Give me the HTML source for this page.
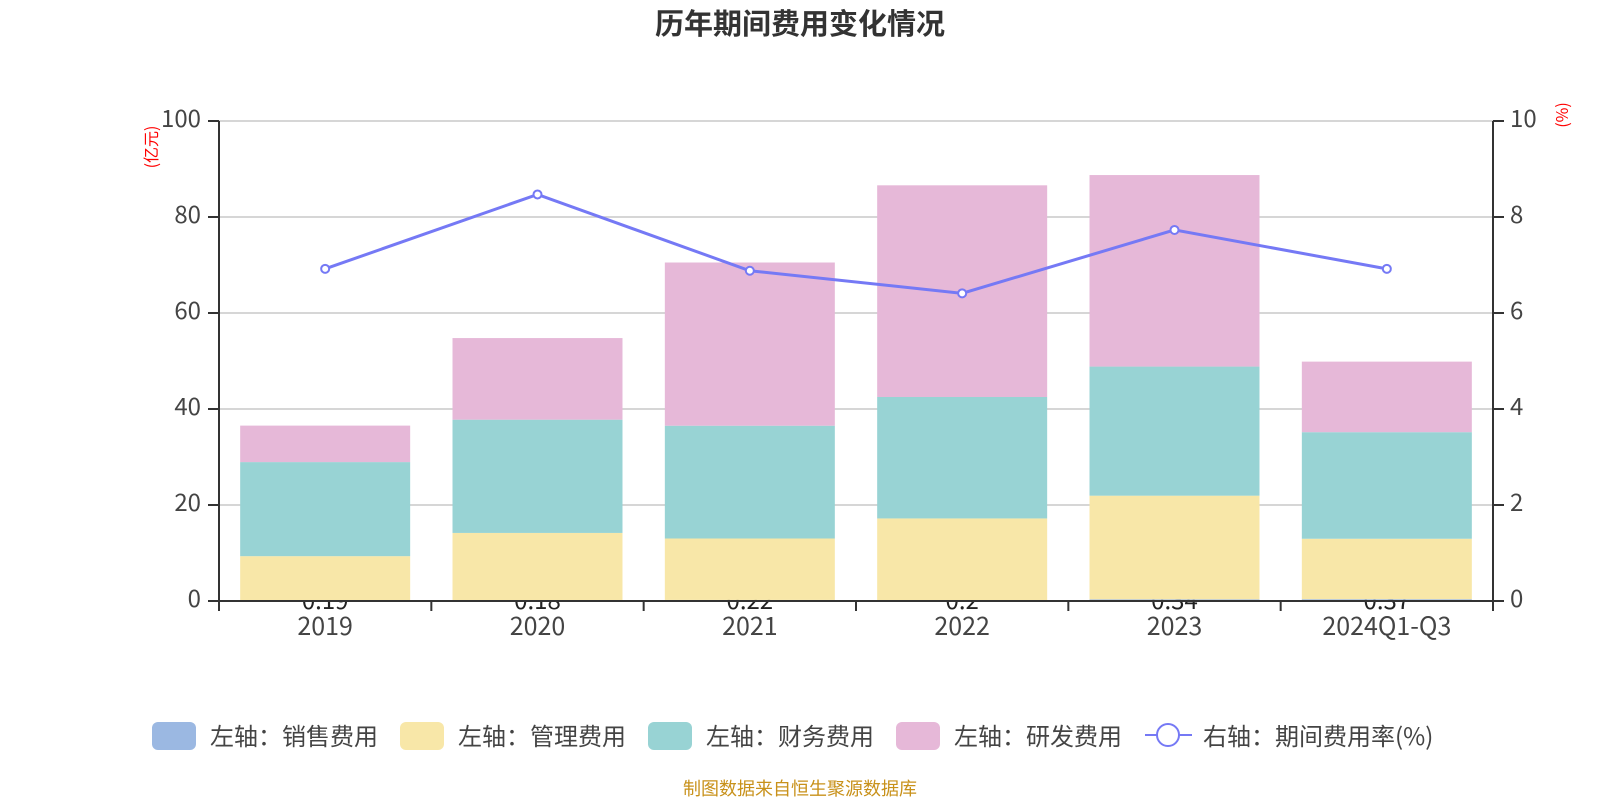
<!DOCTYPE html>
<html><head><meta charset="utf-8"><style>
body{margin:0;background:#fff;}
svg{display:block;font-family:"Liberation Sans","Noto Sans CJK SC",sans-serif;}
.n{font-family:"Noto Sans CJK SC","Liberation Sans",sans-serif;}
</style></head><body>
<svg id="c" width="1600" height="800" viewBox="0 0 1600 800">
<text class="n" x="800" y="34" text-anchor="middle" font-size="29" font-weight="bold" fill="#333">历年期间费用变化情况</text>
<text class="n" transform="translate(157,147) rotate(-90)" text-anchor="middle" font-size="16" fill="#f00">(亿元)</text>
<text class="n" transform="translate(1568,115) rotate(-90)" text-anchor="middle" font-size="16" fill="#f00">(%)</text>
<g id="grid"></g><g id="labels"></g><g id="bars"></g><g id="axes"></g><g id="line"></g>
<g class="n">
<rect x="152" y="722" width="44" height="28" rx="6" fill="#9bb8e2"/>
<text x="210" y="745" font-size="24" fill="#444">左轴：销售费用</text>
<rect x="400" y="722" width="44" height="28" rx="6" fill="#f8e7a8"/>
<text x="458" y="745" font-size="24" fill="#444">左轴：管理费用</text>
<rect x="648" y="722" width="44" height="28" rx="6" fill="#98d3d4"/>
<text x="706" y="745" font-size="24" fill="#444">左轴：财务费用</text>
<rect x="896" y="722" width="44" height="28" rx="6" fill="#e6b8d8"/>
<text x="954" y="745" font-size="24" fill="#444">左轴：研发费用</text>
<line x1="1145" y1="735" x2="1192" y2="735" stroke="#7579f5" stroke-width="2"/>
<circle cx="1168" cy="735" r="11" fill="#fff" stroke="#7579f5" stroke-width="2"/>
<text x="1203" y="745" font-size="24" fill="#444">右轴：期间费用率(%)</text>
</g>
<text class="n" x="800" y="795" text-anchor="middle" font-size="18" fill="#c8911a">制图数据来自恒生聚源数据库</text>
</svg>
<script>
const categories=["2019","2020","2021","2022","2023","2024Q1-Q3"];
const sales=[0.19,0.18,0.22,0.2,0.34,0.37];
const admin=[9.15,14.0,12.8,17.0,21.6,12.6];
const finance=[19.6,23.6,23.5,25.3,26.9,22.2];
const rnd=[7.6,17.0,34.0,44.1,39.9,14.7];
const rate=[6.92,8.47,6.88,6.41,7.73,6.92];
const leftTicks=[0,20,40,60,80,100];
const rightTicks=[0,2,4,6,8,10];

const NS="http://www.w3.org/2000/svg";
const X0=219,X1=1493,Y0=601,Y1=121;
const band=(X1-X0)/categories.length, bw=170;
const yL=v=>Y0-(v/100)*(Y0-Y1);
const yR=v=>Y0-(v/10)*(Y0-Y1);
const xC=i=>X0+band*(i+0.5);
function mk(tag,attrs,parent){const e=document.createElementNS(NS,tag);for(const k in attrs)e.setAttribute(k,attrs[k]);document.getElementById(parent).appendChild(e);return e;}

leftTicks.forEach((t,i)=>{
  if(t>0){const g=mk('line',{x1:X0,x2:X1,y1:yL(t),y2:yL(t),stroke:'#c8c8c8','stroke-width':1.5},'grid');
  
  }
  const tk=mk('line',{x1:X0-11,x2:X0,y1:yL(t),y2:yL(t),stroke:'#333','stroke-width':2},'axes');
  
  
  const tx=mk('text',{x:X0-18,y:yL(t)+6,'text-anchor':'end','font-size':24,fill:'#444',class:'n'},'axes');tx.textContent=t;
  
  
});
rightTicks.forEach(t=>{
  const tk=mk('line',{x1:X1,x2:X1+11,y1:yR(t),y2:yR(t),stroke:'#333','stroke-width':2},'axes');
  
  
  const tx=mk('text',{x:X1+17,y:yR(t)+6,'font-size':24,fill:'#444',class:'n'},'axes');tx.textContent=t;
  
  
});
let a=mk('line',{x1:X0,x2:X0,y1:Y1,y2:Y0+1,stroke:'#333','stroke-width':2},'axes');


a=mk('line',{x1:X1,x2:X1,y1:Y1,y2:Y0+1,stroke:'#333','stroke-width':2},'axes');


a=mk('line',{x1:X0,x2:X1,y1:Y0,y2:Y0,stroke:'#333','stroke-width':2},'axes');


for(let i=0;i<=categories.length;i++){
  const t=mk('line',{x1:X0+band*i,x2:X0+band*i,y1:Y0,y2:Y0+10,stroke:'#333','stroke-width':2},'axes');
  
  
}
const series=[[sales,'#9bb8e2','sales'],[admin,'#f8e7a8','admin'],[finance,'#98d3d4','finance'],[rnd,'#e6b8d8','rnd']];
categories.forEach((c,i)=>{
  const tx=mk('text',{x:xC(i),y:Y0+34,'text-anchor':'middle','font-size':25,fill:'#444',class:'n'},'axes');tx.textContent=c;
  
  
  const vl=mk('text',{x:xC(i),y:Y0+8,'text-anchor':'middle','font-size':24,fill:'#222',class:'n'},'labels');vl.textContent=sales[i];
  
  
  let base=0;
  series.forEach(([arr,col,nm])=>{
    const top=base+arr[i];
    const r=mk('rect',{x:xC(i)-bw/2,y:yL(top),width:bw,height:yL(base)-yL(top),fill:col},'bars');
    
    
    base=top;
  });
});
const pl=mk('polyline',{points:rate.map((v,i)=>xC(i)+','+yR(v)).join(' '),fill:'none',stroke:'#7579f5','stroke-width':3},'line');


rate.forEach((v,i)=>{
  const p=mk('circle',{cx:xC(i),cy:yR(v),r:4,fill:'#fff',stroke:'#7579f5','stroke-width':2},'line');
  
  
});
</script>
</body></html>
